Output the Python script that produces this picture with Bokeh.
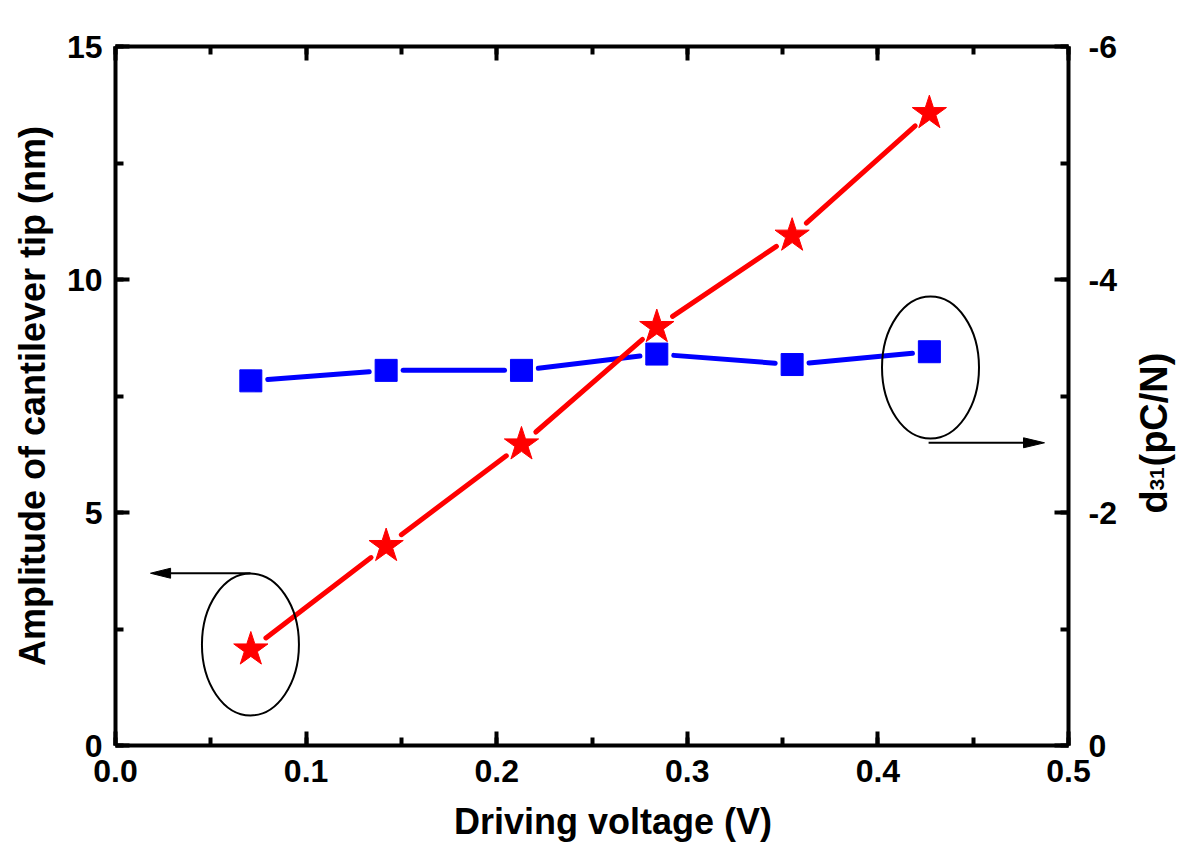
import math
from bokeh.plotting import figure
from bokeh.models import (Range1d, LinearAxis, SingleIntervalTicker, Label,
                          PrintfTickFormatter, CustomJSTickFormatter)
from bokeh.embed import file_html
from bokeh.resources import INLINE

# ---- data ----
voltage = [0.071, 0.142, 0.213, 0.284, 0.355, 0.427]
amplitude = [2.06, 4.28, 6.46, 8.98, 10.94, 13.57]
d31 = [-3.13, -3.22, -3.22, -3.36, -3.27, -3.38]

x_title = "Driving voltage (V)"
yl_title = "Amplitude of cantilever tip (nm)"

FW, FH = 953, 699
X0, X1 = 0.0, 0.5
YL0, YL1 = 0.0, 15.0
YR0, YR1 = 0.0, -6.0
FONT = "Liberation Sans"

p = figure(frame_width=FW, frame_height=FH,
           x_range=Range1d(X0, X1), y_range=Range1d(YL0, YL1),
           output_backend="svg", toolbar_location=None,
           min_border_left=115, min_border_top=46,
           min_border_right=125, min_border_bottom=110)
p.extra_y_ranges = {"right": Range1d(YR0, YR1)}
p.xgrid.visible = False
p.ygrid.visible = False
p.outline_line_color = None
p.background_fill_color = "white"
p.border_fill_color = "white"


def style(ax, standoff):
    ax.axis_line_width = 4
    ax.axis_line_color = "black"
    ax.major_tick_in = 14
    ax.major_tick_out = 0
    ax.minor_tick_in = 8
    ax.minor_tick_out = 0
    ax.major_tick_line_width = 4
    ax.minor_tick_line_width = 4
    ax.major_tick_line_color = "black"
    ax.minor_tick_line_color = "black"
    ax.major_label_text_font = FONT
    ax.major_label_text_font_size = "32px"
    ax.major_label_text_font_style = "bold"
    ax.major_label_text_color = "black"
    ax.major_label_standoff = standoff
    ax.axis_label_text_font = FONT
    ax.axis_label_text_font_size = "36px"
    ax.axis_label_text_font_style = "bold"
    ax.axis_label_text_color = "black"


xax = p.xaxis[0]
xax.ticker = SingleIntervalTicker(interval=0.1, num_minor_ticks=2)
xax.formatter = PrintfTickFormatter(format="%.1f")
style(xax, 14)

yax = p.yaxis[0]
yax.ticker = SingleIntervalTicker(interval=5, num_minor_ticks=2)
yax.formatter = PrintfTickFormatter(format="%d")
style(yax, 13)
yax.axis_label = yl_title
yax.axis_label_standoff = 11

rax = LinearAxis(y_range_name="right",
                 ticker=SingleIntervalTicker(interval=2, num_minor_ticks=2),
                 formatter=PrintfTickFormatter(format="%d"))
style(rax, 20)
p.add_layout(rax, "right")

tax = LinearAxis(ticker=SingleIntervalTicker(interval=0.1, num_minor_ticks=2),
                 formatter=CustomJSTickFormatter(code="return ''"))
style(tax, 0)
tax.major_label_text_font_size = "0px"
p.add_layout(tax, "above")


# ---- lines with gaps around markers (computed from the data in screen space) ----
def gapped(xs, ys, y0, y1, gap):
    X = [(x - X0) / (X1 - X0) * FW for x in xs]
    Y = [(y - y0) / (y1 - y0) * FH for y in ys]
    out = ([], [], [], [])
    for i in range(len(X) - 1):
        dx, dy = X[i + 1] - X[i], Y[i + 1] - Y[i]
        L = math.hypot(dx, dy)
        ux, uy = dx / L, dy / L
        ax_, ay_ = X[i] + ux * gap, Y[i] + uy * gap
        bx_, by_ = X[i + 1] - ux * gap, Y[i + 1] - uy * gap
        out[0].append(X0 + ax_ / FW * (X1 - X0))
        out[1].append(y0 + ay_ / FH * (y1 - y0))
        out[2].append(X0 + bx_ / FW * (X1 - X0))
        out[3].append(y0 + by_ / FH * (y1 - y0))
    return out


bx0, by0, bx1, by1 = gapped(voltage, d31, YR0, YR1, 17)
p.segment(bx0, by0, bx1, by1, line_color="#0000ff", line_width=5,
          line_cap="round", y_range_name="right")
p.scatter(voltage, d31, marker="square", size=22, fill_color="#0000ff",
          line_color="#0000ff", y_range_name="right")

rx0, ry0, rx1, ry1 = gapped(voltage, amplitude, YL0, YL1, 19)
p.segment(rx0, ry0, rx1, ry1, line_color="#ff0000", line_width=5, line_cap="round")
p.scatter(voltage, amplitude, marker="star", size=36, fill_color="#ff0000",
          line_color="#ff0000")

# ---- ellipses and arrows (annotations) ----
p.ellipse(x=[0.0708, 0.4276], y=[2.167, 8.11], width=97, height=142,
          width_units="screen", height_units="screen",
          fill_color=None, line_color="black", line_width=2)

p.segment([0.0708, 0.4266], [3.697, 6.496], [0.0289, 0.4764], [3.697, 6.496],
          line_color="black", line_width=2)
hw = 5 / (FH / (YL1 - YL0))
p.patches([[0.01836, 0.0289, 0.0289], [0.4874, 0.4764, 0.4764]],
          [[3.697, 3.697 + hw, 3.697 - hw], [6.496, 6.496 + hw, 6.496 - hw]],
          fill_color="black", line_color="black", line_width=1)

# ---- x title, placed in the bottom side panel ----
p.add_layout(Label(x=0.261, y=-1.631, text=x_title, text_align="center",
                   text_baseline="alphabetic", text_font=FONT,
                   text_font_size="36px", text_font_style="bold",
                   text_color="black"), "below")

# ---- right-axis title with real subscript, placed in the right side panel ----
for xx, yy, txt, fs in [(0.5451, 4.979, "d", "38px"),
                        (0.5462, 5.47, "31", "21px"),
                        (0.5451, 5.987, "(pC/N)", "38px")]:
    p.add_layout(Label(x=xx, y=yy, text=txt, angle=math.pi / 2,
                       text_align="left", text_baseline="alphabetic",
                       text_font=FONT, text_font_size=fs,
                       text_font_style="bold", text_color="black"), "right")

open("out.html", "w").write(file_html(p, INLINE))
